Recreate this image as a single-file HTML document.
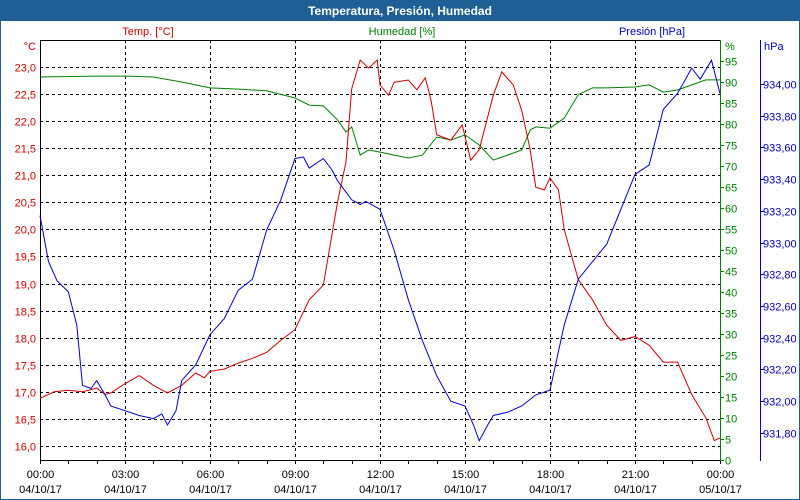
<!DOCTYPE html>
<html><head><meta charset="utf-8"><style>
body{margin:0;width:800px;height:500px;overflow:hidden;background:#fff;font-family:"Liberation Sans",sans-serif}
#wrap{position:absolute;left:0;top:0;width:798px;height:498px;border:1px solid #1f5f96}
#title{position:absolute;left:0;top:0;width:798px;height:20px;background:#1f5f96;color:#fff;font-weight:bold;font-size:12px;text-align:center;line-height:20px}
</style></head><body>
<div id="wrap">
<div id="title">Temperatura, Presión, Humedad</div>
<svg id="chart" width="800" height="500" style="position:absolute;left:-1px;top:-1px"></svg>
</div>
<script>
const hours=[0,3,6,9,12,15,18,21,24];
const xLabels1=["00:00","03:00","06:00","09:00","12:00","15:00","18:00","21:00","00:00"];
const xLabels2=["04/10/17","04/10/17","04/10/17","04/10/17","04/10/17","04/10/17","04/10/17","04/10/17","05/10/17"];
const tempTicks=[16,16.5,17,17.5,18,18.5,19,19.5,20,20.5,21,21.5,22,22.5,23];
const humTicks=[0,5,10,15,20,25,30,35,40,45,50,55,60,65,70,75,80,85,90,95];
const presTicks=[931.8,932.0,932.2,932.4,932.6,932.8,933.0,933.2,933.4,933.6,933.8,934.0];
const tempT=[0,0.5,1,1.5,2,2.3,2.5,3,3.5,4,4.5,5,5.5,5.8,6,6.5,7,7.5,8,8.5,9,9.5,10,10.5,10.8,11,11.3,11.6,11.9,12,12.3,12.5,13,13.3,13.6,13.8,14,14.5,14.9,15.2,15.5,16,16.3,16.7,17,17.3,17.5,17.8,18,18.3,18.5,19,19.5,20,20.5,21,21.5,22,22.5,23,23.5,23.8,24];
const tempV=[16.88,17.0,17.03,17.0,17.07,16.95,16.98,17.15,17.3,17.12,16.98,17.12,17.35,17.26,17.38,17.42,17.53,17.62,17.73,17.95,18.15,18.7,18.97,20.5,21.25,22.6,23.13,22.98,23.13,22.67,22.48,22.72,22.76,22.58,22.8,22.39,21.75,21.65,21.93,21.28,21.47,22.48,22.91,22.67,22.2,21.47,20.78,20.73,20.95,20.73,20.0,19.07,18.7,18.23,17.95,18.02,17.86,17.55,17.55,16.95,16.52,16.1,16.15];
const humT=[0,2,3,4,5,6,7,8,9,9.5,10,10.5,10.8,11,11.3,11.6,12,12.5,13,13.5,14,14.5,15,15.5,16,16.5,17,17.3,17.5,18,18.5,19,19.5,20,21,21.5,22,22.5,23,23.5,24];
const humV=[91.2,91.4,91.4,91.2,90.0,88.6,88.3,87.9,86.2,84.5,84.3,81.0,78.1,79.3,72.6,73.8,73.3,72.6,71.9,72.6,76.9,76.2,77.4,75.0,71.4,72.6,73.8,78.6,79.3,79.0,81.4,87.0,88.6,88.6,88.8,89.3,87.6,88.1,89.3,90.5,90.5];
const presT=[0,0.3,0.6,1,1.3,1.5,1.8,2,2.3,2.5,3,3.5,4,4.3,4.5,4.8,5,5.5,6,6.5,7,7.5,8,8.5,9,9.3,9.5,10,10.3,10.5,11,11.3,11.5,12,12.5,13,13.5,14,14.5,15,15.3,15.5,15.8,16,16.5,17,17.5,18,18.5,19,20,21,21.5,22,22.5,23,23.3,23.7,24];
const presV=[933.17,932.88,932.76,932.69,932.48,932.10,932.08,932.13,932.04,931.97,931.94,931.91,931.89,931.92,931.85,931.94,932.13,932.23,932.42,932.52,932.70,932.77,933.08,933.27,933.53,933.54,933.47,933.53,933.46,933.39,933.27,933.24,933.26,933.21,932.95,932.64,932.38,932.16,932.00,931.97,931.85,931.75,931.85,931.91,931.93,931.97,932.04,932.07,932.48,932.77,932.99,933.43,933.49,933.84,933.94,934.10,934.03,934.15,933.94];
const L=40,R=720,T=40,B=460;
const xs=h=>L+h*(R-L)/24;
const yT=t=>67+(23-t)*54.14;
const yH=h=>460-h*4.2;
const yP=p=>84+(934-p)*158.6;
const svg=document.getElementById('chart');
const NS='http://www.w3.org/2000/svg';
function mk(tag,attrs,parent){const e=document.createElementNS(NS,tag);for(const k in attrs)e.setAttribute(k,attrs[k]);(parent||svg).appendChild(e);return e;}
function txt(x,y,s,fill,anchor){const e=mk('text',{x:x,y:y,fill:fill,'font-size':11,'text-anchor':anchor||'start','font-family':'"Liberation Sans",sans-serif'});e.textContent=s;return e;}
// grid
tempTicks.forEach(t=>{const y=Math.round(yT(t))+0.5;
const g=mk('line',{x1:L,x2:R,y1:y,y2:y,stroke:'#000','stroke-dasharray':'3,3'});


const lb=txt(36,y+4,t.toFixed(1).replace('.',','),'#d00000','end');

});
hours.forEach((h,i)=>{const x=Math.round(xs(h))+0.5;
if(i>0&&i<8){const g=mk('line',{x1:x,x2:x,y1:T,y2:B,stroke:'#000','stroke-dasharray':'3,3'});

}
const a=txt(x,478,xLabels1[i],'#000','middle');


const b=txt(x,493,xLabels2[i],'#000','middle');

});
for(let h=0;h<=24;h++){const x=Math.round(xs(h))+0.5;mk('line',{x1:x,x2:x,y1:B,y2:B+4,stroke:'#000'});}
// axes
const ax=mk('path',{d:`M${L+0.5},${T} V${B+0.5} H${R}`,stroke:'#000',fill:'none'});


mk('line',{x1:L,x2:R,y1:T+0.5,y2:T+0.5,stroke:'#000'});
mk('line',{x1:R+0.5,x2:R+0.5,y1:T,y2:B+1,stroke:'#008000'});
humTicks.forEach(h=>{const y=Math.round(yH(h))+0.5;mk('line',{x1:R,x2:R+4,y1:y,y2:y,stroke:'#008000'});
const lb=txt(725,y+4,String(h),'#008000');

});
mk('line',{x1:760.5,x2:760.5,y1:T,y2:B+1,stroke:'#0000c0'});
presTicks.forEach(p=>{const y=Math.round(yP(p))+0.5;mk('line',{x1:760,x2:764,y1:y,y2:y,stroke:'#0000c0'});
const lb=txt(763,y+4,p.toFixed(2).replace('.',','),'#0000c0');

});
// axis units/titles
[[36,50,'°C','#d00000','end','temp-unit'],[725,50,'%','#008000','start','humidity-unit'],[764,50,'hPa','#0000c0','start','pressure-unit'],
 [148,35,'Temp. [°C]','#d00000','middle','temp-axis-title'],[402,35,'Humedad [%]','#008000','middle','humidity-axis-title'],[652,35,'Presión [hPa]','#0000c0','middle','pressure-axis-title']].forEach(a=>{
const e=txt(a[0],a[1],a[2],a[3],a[4]);

});
// series
function series(tArr,vArr,yf,color,name){const d=tArr.map((t,i)=>(i?'L':'M')+xs(t).toFixed(1)+','+yf(vArr[i]).toFixed(1)).join(' ');
const p=mk('path',{d:d,stroke:color,fill:'none','stroke-width':1});

}
series(humT,humV,yH,'#008000','humidity-line');
series(tempT,tempV,yT,'#d00000','temperature-line');
series(presT,presV,yP,'#0000d0','pressure-line');
</script>
</body></html>
